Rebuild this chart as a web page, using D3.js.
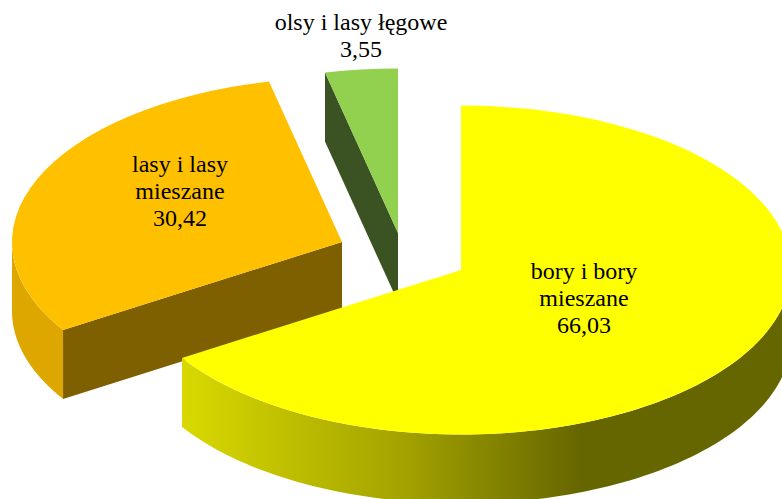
<!DOCTYPE html>
<html>
<head>
<meta charset="utf-8">
<script src="https://cdn.jsdelivr.net/npm/d3@7"></script>
<style>
  html,body{margin:0;padding:0;background:#fff;}
  svg{display:block;}
  text{font-family:"Liberation Serif",serif;font-size:24px;fill:#000;text-anchor:middle;}
</style>
</head>
<body>
<script>
// chart values, clockwise from 12 o'clock
var categories = ['bory i bory mieszane','lasy i lasy mieszane','olsy i lasy łęgowe'];
var values = [66.03,30.42,3.55];
var valueLabels = ['66,03','30,42','3,55'];
var labelLines = [['bory i bory','mieszane'],['lasy i lasy','mieszane'],['olsy i lasy łęgowe']];

// layout
var width = 782, height = 499;
var radiusX = 330, radiusY = 164.5, depth = 69;
var centers = [[461,270],[342,242],[398,233]];
var labelPos = [[584,279],[180,172],[361,30]];
var lineHeight = 27;
var topColors = ['#FFFF00','#FFC000','#92D050'];
var rimColors = ['url(#yellowRim)','#DDA700','#3B5323'];
var faceColors = [null,'#7F6000','#3B5323'];
var drawOrder = [1,2,0];   // yellow slice sits in front

var svg = d3.select('body').append('svg')
  .attr('width',width)
  .attr('height',height);

var slices = d3.pie().sort(null)(values);

// point on the ellipse of a slice, angle measured clockwise from top
function ellipsePoint(center,angle,drop){
  return [center[0]+radiusX*Math.sin(angle), center[1]-radiusY*Math.cos(angle)+(drop||0)];
}

var endX = ellipsePoint(centers[0],slices[0].endAngle)[0];
var gradient = svg.append('defs').append('linearGradient')
  .attr('id','yellowRim')
  .attr('gradientUnits','userSpaceOnUse')
  .attr('x1',endX).attr('x2',580).attr('y1',0).attr('y2',0);
gradient.append('stop').attr('offset',0).attr('stop-color','#D9D900');
gradient.append('stop').attr('offset',0.55).attr('stop-color','#A3A300');
gradient.append('stop').attr('offset',1).attr('stop-color','#666600');

var topArc = d3.arc().innerRadius(0).outerRadius(radiusX);
var line = d3.line();

function rimPath(slice,center){
  //only the front half of the outer wall can be seen
  var from = Math.max(slice.startAngle,Math.PI/2);
  var to = Math.min(slice.endAngle,Math.PI*3/2);
  if(from>=to){
    return null;
  }
  var angles = d3.range(0,101).map(function(i){
    return from+(to-from)*i/100;
  });
  var upper = angles.map(function(a){ return ellipsePoint(center,a); });
  var lower = angles.slice().reverse().map(function(a){ return ellipsePoint(center,a,depth); });
  return line(upper.concat(lower))+'Z';
}

function facePath(slice,center){
  var edge = ellipsePoint(center,slice.startAngle);
  return line([
    center,
    edge,
    [edge[0],edge[1]+depth],
    [center[0],center[1]+depth]
  ])+'Z';
}

drawOrder.forEach(function(i){
  var slice = slices[i], center = centers[i];
  var g = svg.append('g').attr('class','slice');

  var rim = rimPath(slice,center);
  if(rim){
    g.append('path').attr('d',rim).attr('fill',rimColors[i]);
  }
  if(faceColors[i]){
    g.append('path').attr('d',facePath(slice,center)).attr('fill',faceColors[i]);
  }
  g.append('path')
    .attr('d',topArc(slice))
    .attr('transform','translate('+center[0]+','+center[1]+') scale(1,'+radiusY/radiusX+')')
    .attr('fill',topColors[i]);
});

// labels
labelLines.forEach(function(lines,i){
  var all = lines.concat([valueLabels[i]]);
  var label = svg.append('text').attr('aria-label',categories[i]);
  all.forEach(function(t,j){
    label.append('tspan')
      .attr('x',labelPos[i][0])
      .attr('y',labelPos[i][1]+j*lineHeight)
      .text(t);
  });
});
</script>
</body>
</html>
